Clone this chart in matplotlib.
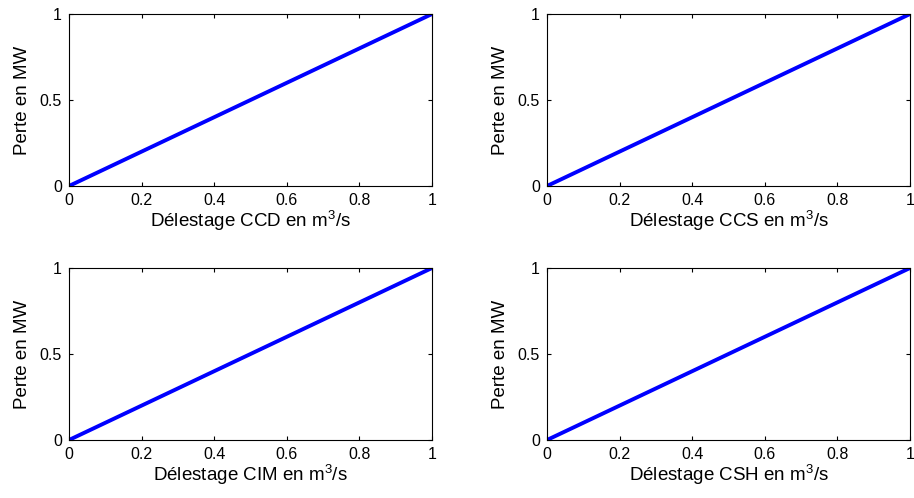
import matplotlib
matplotlib.use("Agg")
import matplotlib.pyplot as plt

plt.rcParams['font.family'] = ['Liberation Sans', 'DejaVu Sans']
plt.rcParams['mathtext.fontset'] = 'custom'
plt.rcParams['mathtext.rm'] = 'Liberation Sans'
plt.rcParams['mathtext.it'] = 'Liberation Sans'

x_vals = [0.0, 0.1, 0.2, 0.3, 0.4, 0.5, 0.6, 0.7, 0.8, 0.9, 1.0]
y_ccd = [0.0, 0.1, 0.2, 0.3, 0.4, 0.5, 0.6, 0.7, 0.8, 0.9, 1.0]
y_ccs = [0.0, 0.1, 0.2, 0.3, 0.4, 0.5, 0.6, 0.7, 0.8, 0.9, 1.0]
y_cim = [0.0, 0.1, 0.2, 0.3, 0.4, 0.5, 0.6, 0.7, 0.8, 0.9, 1.0]
y_csh = [0.0, 0.1, 0.2, 0.3, 0.4, 0.5, 0.6, 0.7, 0.8, 0.9, 1.0]
names = ['CCD', 'CCS', 'CIM', 'CSH']
series = [y_ccd, y_ccs, y_cim, y_csh]
xticks = [0, 0.2, 0.4, 0.6, 0.8, 1]
xticklabels = ['0', '0.2', '0.4', '0.6', '0.8', '1']
yticks = [0, 0.5, 1]
yticklabels = ['0', '0.5', '1']

fig = plt.figure(figsize=(9.14, 4.98), dpi=100)
W, H = 914, 498
lefts = [69, 547]
tops = [14, 268]
aw, ah = 363, 172

for i, (name, ys) in enumerate(zip(names, series)):
    r, c = divmod(i, 2)
    l = lefts[c]; t = tops[r]
    ax = fig.add_axes([l / W, 1 - (t + ah) / H, aw / W, ah / H])
    ax.plot(x_vals, ys, color='#0000ff', linewidth=2.8, solid_capstyle='round')
    ax.set_xlim(0, 1)
    ax.set_ylim(0, 1)
    ax.set_xticks(xticks)
    ax.set_xticklabels(xticklabels)
    ax.set_yticks(yticks)
    ax.set_yticklabels(yticklabels)
    ax.tick_params(direction='in', top=True, right=True, length=3, width=0.8,
                   labelsize=11.5)
    ax.tick_params(axis='x', pad=5)
    ax.tick_params(axis='y', pad=5)
    for s in ax.spines.values():
        s.set_linewidth(0.8)
    ax.set_xlabel('Délestage ' + name + ' en m$^3$/s', fontsize=13.5, labelpad=1)
    ax.set_ylabel('Perte en MW', fontsize=13.5, labelpad=6)

fig.savefig('out.png', dpi=100)
